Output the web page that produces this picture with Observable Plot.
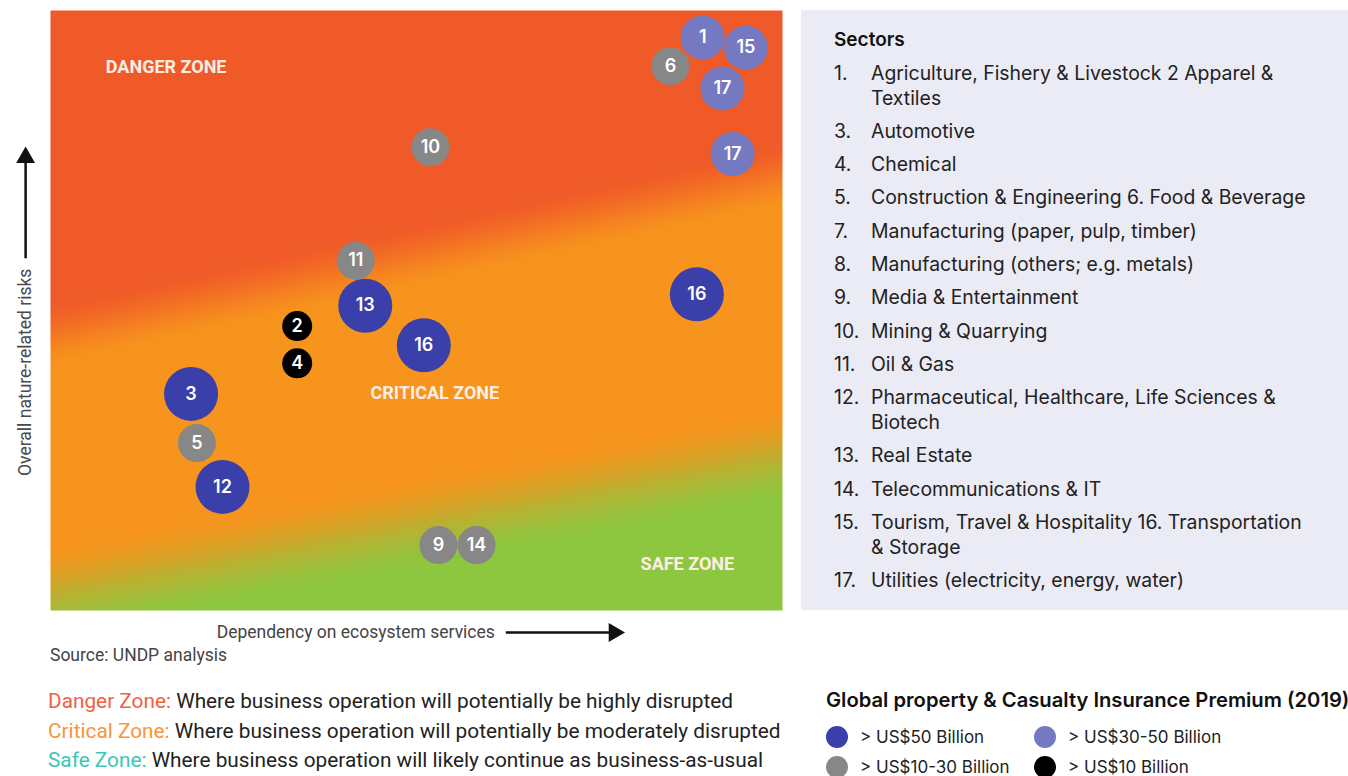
<!DOCTYPE html>
<html>
<head>
<meta charset="utf-8">
<script src="https://cdn.jsdelivr.net/npm/d3@7"></script>
<script src="https://cdn.jsdelivr.net/npm/@observablehq/plot@0.6"></script>
<style>
  html, body { margin: 0; padding: 0; background: #fff; }
  body { width: 1348px; height: 776px; position: relative; overflow: hidden; font-family: Roboto, "Noto Sans", sans-serif; }
  #chart { position: absolute; left: 0; top: 0; }
  #source { position: absolute; left: 50px; top: 645px; font-size: 17.5px; line-height: 20px; color: #444; }
  #zones { position: absolute; left: 48px; top: 687px; font-size: 20.8px; line-height: 29.5px; color: #222; white-space: nowrap; }
  #panel { position: absolute; left: 801px; top: 10px; width: 547px; height: 600px; background: #ebebf5; font-family: Inter, Roboto, sans-serif; color: #222; }
  #panel h3 { position: absolute; left: 33px; top: 18px; margin: 0; font-size: 19px; line-height: 24px; font-weight: 600; color: #111; }
  #panel ol { position: absolute; left: 33px; top: 50.5px; margin: 0; padding: 0; list-style: none; }
  #panel li { display: flex; font-size: 19.4px; line-height: 25px; margin-bottom: 8.3px; }
  #panel li .n { width: 37px; flex: none; }
  #panel li .t { white-space: pre; }
  #legend { position: absolute; left: 826px; top: 688px; font-family: Inter, Roboto, sans-serif; color: #222; }
  #legend h4 { margin: 0; font-size: 20.2px; line-height: 24px; font-weight: 600; color: #111; white-space: nowrap; }
  #legend .grid { display: grid; grid-template-columns: 208px 220px; margin-top: 10px; }
  #legend .item { display: flex; align-items: center; height: 30px; font-size: 17px; white-space: nowrap; }
  #legend .sw { width: 22px; height: 22px; border-radius: 50%; margin-right: 12px; flex: none; }
</style>
</head>
<body>
<div id="chart"></div>
<div id="source">Source: UNDP analysis</div>
<div id="zones"></div>
<div id="panel"><h3>Sectors</h3><ol id="sectors"></ol></div>
<div id="legend"><h4>Global property &amp; Casualty Insurance Premium (2019)</h4><div class="grid" id="tiers"></div></div>
<script>
// Sector bubbles: id, dependency on ecosystem services (x), nature-related risk (y), premium tier
const sectorIds  = [1, 15, 6, 17, 17, 10, 16, 11, 13, 2, 4, 16, 3, 5, 12, 9, 14];
const dependency = [89.1, 95.0, 84.7, 91.8, 93.2, 51.9, 88.3, 41.7, 43.0, 33.7, 33.7, 51.0, 19.2, 20.0, 23.5, 53.0, 58.2];
const risk       = [95.5, 93.8, 90.7, 87.0, 76.1, 77.2, 52.7, 58.3, 50.8, 47.4, 41.2, 44.2, 36.1, 27.9, 20.6, 10.9, 10.9];
const premiumTier = ["30-50", "30-50", "10-30", "30-50", "30-50", "10-30", "50+", "10-30", "50+", "<10", "<10", "50+", "50+", "10-30", "50+", "10-30", "10-30"];

// Premium tiers in legend order
const tierKeys   = ["50+", "30-50", "10-30", "<10"];
const tierLabels = ["> US$50 Billion", "> US$30-50 Billion", "> US$10-30 Billion", "> US$10 Billion"];

// Sector list (line breaks where the entry wraps)
const sectorNumbers = ["1.", "3.", "4.", "5.", "7.", "8.", "9.", "10.", "11.", "12.", "13.", "14.", "15.", "17."];
const sectorNames = [
  "Agriculture, Fishery & Livestock 2 Apparel &\nTextiles",
  "Automotive",
  "Chemical",
  "Construction & Engineering 6. Food & Beverage",
  "Manufacturing (paper, pulp, timber)",
  "Manufacturing (others; e.g. metals)",
  "Media & Entertainment",
  "Mining & Quarrying",
  "Oil & Gas",
  "Pharmaceutical, Healthcare, Life Sciences &\nBiotech",
  "Real Estate",
  "Telecommunications & IT",
  "Tourism, Travel & Hospitality 16. Transportation\n& Storage",
  "Utilities (electricity, energy, water)"
];

// Zones: label, label position, and risk level of each boundary at dependency 0 and 100
const zoneNames = ["DANGER ZONE", "CRITICAL ZONE", "SAFE ZONE"];
const zoneLabelX = [15.8, 52.5, 87.0];
const zoneLabelY = [90.5, 36.2, 7.7];
const dangerEdge = [45.8, 72.5];
const safeEdge = [3.0, 26.0];
const zoneTitles = ["Danger Zone:", "Critical Zone:", "Safe Zone:"];
const zoneDescriptions = [
  "Where business operation will potentially be highly disrupted",
  "Where business operation will potentially be moderately disrupted",
  "Where business operation will likely continue as business-as-usual"
];

// Styling
const tierStyle = {
  "50+":   {fill: "#3a3fa9", r: 27},
  "30-50": {fill: "#7479c2", r: 22},
  "10-30": {fill: "#878787", r: 19},
  "<10":   {fill: "#000000", r: 15}
};
const zoneColors = {danger: "#f05a28", critical: "#f7941d", safe: "#8dc63f"};
const zoneTitleColors = ["#f2603f", "#f7963a", "#3cc6b4"];

const points = sectorIds.map((id, i) => ({id, x: dependency[i], y: risk[i], tier: premiumTier[i]}));

const smooth = (e0, e1, v) => { const t = Math.max(0, Math.min(1, (v - e0) / (e1 - e0))); return t * t * (3 - 2 * t); };
const toRed = d3.interpolateRgb(zoneColors.critical, zoneColors.danger);
function zoneColor(x, y) {
  const d = dangerEdge[0] + (dangerEdge[1] - dangerEdge[0]) * x / 100;
  const s = safeEdge[0] + (safeEdge[1] - safeEdge[0]) * x / 100;
  const base = toRed(smooth(-6, 6, y - d));
  return d3.interpolateRgb(base, zoneColors.safe)(smooth(-8, 8, s - y));
}

// Axis annotations (label plus arrow), in data units
const xAxisNote = {text: "Dependency on ecosystem services", x: 41.7, y: -3.67, from: 62.2, to: 77.0};
const yAxisNote = {text: "Overall nature-related risks", x: -3.4, y: 39.7, from: 58.7, to: 75.5};

const plot = Plot.plot({
  width: 790,
  height: 645,
  marginLeft: 50,
  marginRight: 8,
  marginTop: 10,
  marginBottom: 35,
  x: {domain: [0, 100], axis: null},
  y: {domain: [0, 100], axis: null},
  color: {type: "identity"},
  r: {type: "identity"},
  style: {fontFamily: "Roboto, sans-serif", background: "transparent"},
  marks: [
    Plot.raster({x1: 0, x2: 100, y1: 0, y2: 100, fill: zoneColor, pixelSize: 1, imageRendering: "auto"}),
    Plot.text(zoneNames, {
      x: (d, i) => zoneLabelX[i], y: (d, i) => zoneLabelY[i], text: d => d,
      fill: "#fdeee4", fontSize: 18, fontWeight: 700
    }),
    Plot.dot(points, {x: "x", y: "y", r: d => tierStyle[d.tier].r, fill: d => tierStyle[d.tier].fill}),
    Plot.text(points, {
      x: "x", y: "y", text: d => String(d.id), fill: "white",
      fontSize: 18, fontWeight: 600, fontFamily: "Inter, Roboto, sans-serif"
    }),
    // x-axis label and arrow
    Plot.text([xAxisNote], {x: "x", y: "y", text: "text", fill: "#444", fontSize: 17.5}),
    Plot.link([xAxisNote], {x1: "from", x2: "to", y1: "y", y2: "y", stroke: "#111", strokeWidth: 2.5}),
    Plot.dot([xAxisNote], {x: "to", y: "y", symbol: "triangle", r: 7, rotate: 90, fill: "#111"}),
    // y-axis label and arrow
    Plot.text([yAxisNote], {x: "x", y: "y", text: "text", rotate: -90, fill: "#4a4a4a", fontSize: 17.5}),
    Plot.link([yAxisNote], {x1: "x", x2: "x", y1: "from", y2: "to", stroke: "#111", strokeWidth: 2.5}),
    Plot.dot([yAxisNote], {x: "x", y: "to", symbol: "triangle", r: 7, fill: "#111"})
  ]
});
document.getElementById("chart").append(plot);

// Zone descriptions
const zones = document.getElementById("zones");
zoneTitles.forEach((t, i) => {
  const line = document.createElement("div");
  const head = document.createElement("span");
  head.style.color = zoneTitleColors[i];
  head.textContent = t + " ";
  line.append(head, zoneDescriptions[i]);
  zones.append(line);
});

// Sector list
const list = document.getElementById("sectors");
sectorNames.forEach((name, i) => {
  const li = document.createElement("li");
  const n = document.createElement("span"); n.className = "n"; n.textContent = sectorNumbers[i];
  const t = document.createElement("span"); t.className = "t"; t.textContent = name;
  li.append(n, t);
  list.append(li);
});

// Premium legend
const tiers = document.getElementById("tiers");
tierKeys.forEach((k, i) => {
  const item = document.createElement("div"); item.className = "item";
  const sw = document.createElement("span"); sw.className = "sw"; sw.style.background = tierStyle[k].fill;
  item.append(sw, tierLabels[i]);
  tiers.append(item);
});
</script>
</body>
</html>
